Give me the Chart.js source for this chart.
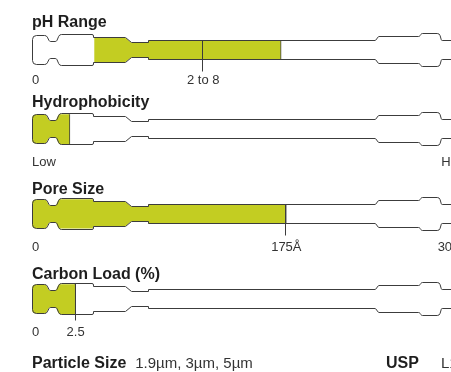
<!DOCTYPE html>
<html><head><meta charset="utf-8">
<script src="https://cdn.jsdelivr.net/npm/chart.js@4.4.1/dist/chart.umd.min.js"></script>
<style>
html,body{margin:0;padding:0;width:451px;height:372px;overflow:hidden;background:#fff;position:relative;}
canvas{position:absolute;left:0;}
.foot{position:absolute;top:355px;white-space:nowrap;font:16px/16px "Liberation Sans",Arial,sans-serif;color:#1e1e1e;}
.foot b{font-weight:bold;}
.foot span{font-size:15px;color:#333;}
</style></head>
<body>
<canvas id="c0" width="520"></canvas>
<canvas id="c1" width="520"></canvas>
<canvas id="c2" width="520"></canvas>
<canvas id="c3" width="520"></canvas>
<div class="foot" style="left:32px"><b>Particle Size</b>&nbsp; <span id="ps"></span></div>
<div class="foot" style="left:386px"><b>USP</b></div>
<div class="foot" style="left:441px"><span id="usp"></span></div>
<script>
// ---- data ----
const rowTitles = ["pH Range", "Hydrophobicity", "Pore Size", "Carbon Load (%)"];
const scaleMin = [0, 0, 0, 0];
const scaleMax = [14, 10, 300, 25];
const fillStart = [2, 0, 0, 0];
const fillEnd = [8, 0.87, 175, 2.5];
const tickValues = [[0, 5.5, 14], [0, 10], [0, 175, 300], [0, 2.5, 25]];
const tickLabels = [["0", "2 to 8", ""], ["Low", "High"], ["0", "175Å", "300Å"], ["0", "2.5", ""]];
const tickMarked = [[false, true, false], [false, false], [false, true, false], [false, true, false]];
const particleSizes = ["1.9µm", "3µm", "5µm"];
const uspCode = "L1";

// ---- layout / style ----
const rowCenters = [50, 129, 214, 299];
const labelPad = [5, 10, 11, 10];
const titlePad = [0, 2, 0, 0];
const GREEN = "#c3cd22";
const LINE = "#3c3c3c";
const LABEL_FONT = '"Liberation Sans",Arial,sans-serif';
const TITLE_FONT = '"Liberation Sans",Arial,sans-serif';
// column outline: [offset from scale start (px), half height, corner radius]
const PROFILE = [
  [0, 14.5, 4], [14, 14.5, 3], [17, 8.5, 2], [24, 8.5, 2], [27, 15.5, 3], [61, 15.5, 1.5],
  [61, 12.5, 0], [93, 12.5, 1], [99, 7.5, 1], [116, 7.5, 0], [116, 9.5, 0], [343, 9.5, 1],
  [346, 13.5, 1], [387, 13.5, 2], [389, 16.5, 2], [407, 16.5, 3], [409, 9.5, 1], [490, 9.5, 0]
];

document.getElementById('ps').textContent = particleSizes.join(', ');
document.getElementById('usp').textContent = uspCode;

function halfAt(dx) {
  for (let i = 0; i < PROFILE.length - 1; i++) {
    const a = PROFILE[i], b = PROFILE[i + 1];
    if (dx >= a[0] && dx <= b[0]) {
      if (b[0] === a[0]) return Math.max(a[1], b[1]);
      return a[1] + (b[1] - a[1]) * (dx - a[0]) / (b[0] - a[0]);
    }
  }
  return 9.5;
}
function columnPath(ctx, x0, cy) {
  const pts = [];
  PROFILE.forEach(([dx, h, r]) => pts.push([x0 + dx, cy - h, r]));
  for (let i = PROFILE.length - 1; i >= 0; i--) { const [dx, h, r] = PROFILE[i]; pts.push([x0 + dx, cy + h, r]); }
  const n = pts.length;
  ctx.beginPath();
  ctx.moveTo(x0, cy);
  for (let i = 0; i < n; i++) {
    const p = pts[i], q = pts[(i + 1) % n];
    if (p[2] > 0) ctx.arcTo(p[0], p[1], q[0], q[1], p[2]); else ctx.lineTo(p[0], p[1]);
  }
  ctx.closePath();
}

const columnPlugin = {
  id: 'column',
  beforeDatasetsDraw(chart) {
    const ctx = chart.ctx, a = chart.chartArea;
    const cy = Math.round((a.top + a.bottom) / 2);
    ctx.save();
    columnPath(ctx, a.left, cy);
    ctx.clip();
  },
  afterDatasetsDraw(chart) {
    const ctx = chart.ctx, a = chart.chartArea, i = chart.options.rowIndex;
    const cy = Math.round((a.top + a.bottom) / 2);
    ctx.restore();
    ctx.save();
    ctx.translate(0.5, 0);
    ctx.strokeStyle = LINE; ctx.lineWidth = 1;
    columnPath(ctx, a.left, cy);
    ctx.stroke();
    ctx.restore();
    const xs = chart.scales.x;
    ctx.save();
    ctx.strokeStyle = LINE; ctx.lineWidth = 1;
    tickValues[i].forEach((v, k) => {
      if (!tickMarked[i][k]) return;
      const x = Math.round(xs.getPixelForValue(v));
      const h = halfAt(x - a.left);
      ctx.beginPath();
      ctx.moveTo(x - 0.5, cy - h);
      ctx.lineTo(x - 0.5, cy + 21.5);
      ctx.stroke();
    });
    ctx.restore();
  }
};

rowTitles.forEach((title, i) => {
  const canvas = document.getElementById('c' + i);
  canvas.height = Math.round(74.8 + titlePad[i] + labelPad[i]);
  const chart = new Chart(canvas, {
    type: 'bar',
    data: {
      labels: [title],
      datasets: [{
        data: [[fillStart[i], fillEnd[i]]],
        backgroundColor: GREEN,
        borderColor: LINE,
        borderWidth: {left: 0, right: 1, top: 0, bottom: 0},
        borderSkipped: false,
        barThickness: 40
      }]
    },
    options: {
      rowIndex: i,
      indexAxis: 'y',
      responsive: false,
      animation: false,
      devicePixelRatio: 1,
      layout: {padding: {left: 32, right: 52, top: 0, bottom: 0}},
      plugins: {
        legend: {display: false},
        tooltip: {enabled: false},
        title: {
          display: true, text: title, align: 'start', color: '#1e1e1e',
          font: {family: TITLE_FONT, size: 16, weight: 'bold'},
          padding: {top: 0, bottom: titlePad[i]}
        }
      },
      scales: {
        y: {display: false},
        x: {
          type: 'linear', min: scaleMin[i], max: scaleMax[i],
          grid: {display: false, drawTicks: false},
          border: {display: false},
          afterBuildTicks: (s) => { s.ticks = tickValues[i].map(v => ({value: v})); },
          ticks: {
            autoSkip: false, maxRotation: 0, align: 'inner', padding: labelPad[i],
            color: '#333', font: {family: LABEL_FONT, size: 13},
            callback: (v, k) => tickLabels[i][k]
          }
        }
      }
    },
    plugins: [columnPlugin]
  });
  const a = chart.chartArea;
  const cy = Math.round((a.top + a.bottom) / 2);
  canvas.style.top = (rowCenters[i] - cy) + 'px';
});
</script>
</body></html>
